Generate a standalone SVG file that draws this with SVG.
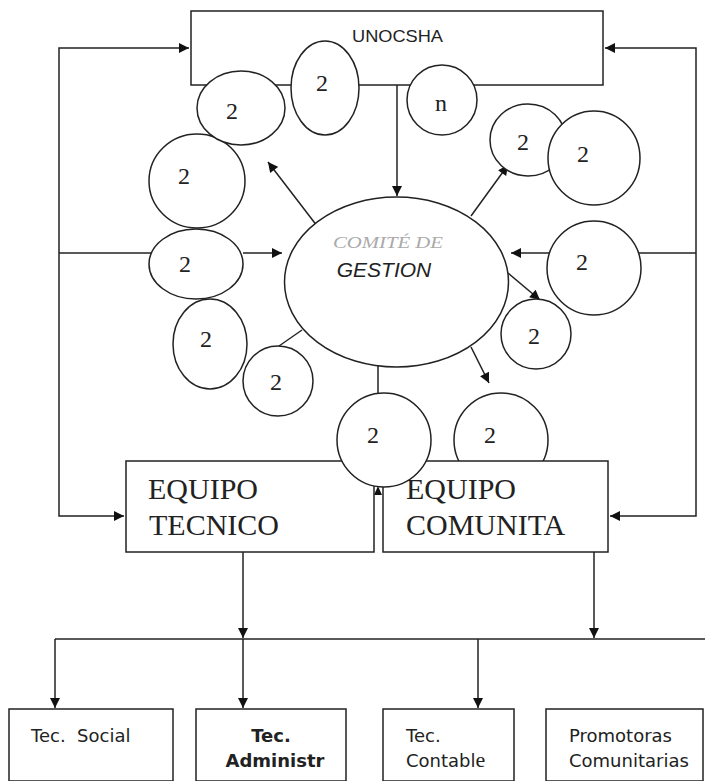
<svg xmlns="http://www.w3.org/2000/svg" width="705" height="781" viewBox="0 0 705 781">
<style>
.ln{fill:none;stroke:#222;stroke-width:1.5}
.bx{fill:#fff;stroke:#222;stroke-width:1.5}
.el{fill:#fff;stroke:#222;stroke-width:1.5}
.num{font-family:"Liberation Serif",serif;font-size:24px;fill:#222;text-anchor:middle;dominant-baseline:central}
.big{font-family:"Liberation Serif",serif;font-size:30px;fill:#222}
.sm{font-family:"DejaVu Sans",sans-serif;font-size:18px;fill:#222}
</style>
<defs>
<marker id="ah" viewBox="0 0 10 10" refX="10" refY="5" markerWidth="11" markerHeight="10" markerUnits="userSpaceOnUse" orient="auto">
<path d="M0,0 L10,5 L0,10 Z" fill="#111"/>
</marker>
</defs>
<rect width="705" height="781" fill="#fff"/>

<g id="connectors">
<polyline class="ln" points="59,253 59,48 189,48" marker-end="url(#ah)"/>
<polyline class="ln" points="59,253 59,516 124,516" marker-end="url(#ah)"/>
<line class="ln" x1="59" y1="253" x2="160" y2="253"/>
<line class="ln" x1="243" y1="253" x2="282" y2="253" marker-end="url(#ah)"/>
<polyline class="ln" points="696,253 696,48 605,48" marker-end="url(#ah)"/>
<polyline class="ln" points="696,253 696,516 610,516" marker-end="url(#ah)"/>
<line class="ln" x1="696" y1="253" x2="511" y2="253" marker-end="url(#ah)"/>
<line class="ln" x1="397" y1="85" x2="397" y2="196" marker-end="url(#ah)"/>
<line class="ln" x1="324" y1="235" x2="268" y2="162" marker-end="url(#ah)"/>
<line class="ln" x1="471" y1="216" x2="508" y2="165" marker-end="url(#ah)"/>
<line class="ln" x1="508" y1="273" x2="540" y2="300" marker-end="url(#ah)"/>
<line class="ln" x1="471" y1="347" x2="489" y2="383" marker-end="url(#ah)"/>
<line class="ln" x1="302" y1="330" x2="279" y2="346"/>
<line class="ln" x1="378" y1="366" x2="378" y2="394"/>
<path d="M374,495 L378,486 L382,495 Z" fill="#111"/>
<line class="ln" x1="243" y1="552" x2="243" y2="638" marker-end="url(#ah)"/>
<line class="ln" x1="594" y1="542" x2="594" y2="638" marker-end="url(#ah)"/>
<line class="ln" x1="55" y1="639" x2="705" y2="639"/>
<line class="ln" x1="55" y1="639" x2="55" y2="708" marker-end="url(#ah)"/>
<line class="ln" x1="243" y1="639" x2="243" y2="708" marker-end="url(#ah)"/>
<line class="ln" x1="478" y1="639" x2="478" y2="708" marker-end="url(#ah)"/>
</g>

<g id="unocsha">
<rect class="bx" x="191" y="11" width="412" height="74"/>
<text x="352" y="42" font-family="'Liberation Sans',sans-serif" font-size="17" fill="#222" textLength="91" lengthAdjust="spacingAndGlyphs">UNOCSHA</text>
</g>

<g id="circle-left1"><ellipse class="el" cx="197" cy="181" rx="48" ry="47"/><text class="num" x="184" y="176">2</text></g>
<g id="circle-top1"><ellipse class="el" cx="241" cy="108" rx="44" ry="37"/><text class="num" x="232" y="111">2</text></g>
<g id="circle-top2"><ellipse class="el" cx="325" cy="88" rx="34" ry="47"/><text class="num" x="322" y="83">2</text></g>
<g id="circle-n"><ellipse class="el" cx="442" cy="100" rx="35" ry="35"/><text class="num" x="441" y="103">n</text></g>
<g id="circle-left2"><ellipse class="el" cx="196" cy="264" rx="47" ry="35"/><text class="num" x="185" y="264">2</text></g>
<g id="circle-left3"><ellipse class="el" cx="210" cy="344" rx="37" ry="45"/><text class="num" x="206" y="339">2</text></g>
<g id="circle-left4"><ellipse class="el" cx="278" cy="381" rx="35" ry="35"/><text class="num" x="276" y="382">2</text></g>
<g id="circle-right1"><ellipse class="el" cx="528" cy="140" rx="38" ry="36"/><text class="num" x="523" y="142">2</text></g>
<g id="circle-right2"><ellipse class="el" cx="594" cy="158" rx="46" ry="47"/><text class="num" x="583" y="154">2</text></g>
<g id="circle-right3"><ellipse class="el" cx="594" cy="268" rx="47" ry="47"/><text class="num" x="582" y="262">2</text></g>
<g id="circle-right4"><ellipse class="el" cx="536" cy="334" rx="35" ry="35"/><text class="num" x="534" y="336">2</text></g>
<g id="circle-bottom2"><ellipse class="el" cx="501" cy="440" rx="47" ry="47"/><text class="num" x="490" y="435">2</text></g>

<g id="comite">
<ellipse class="el" cx="396.5" cy="282" rx="112" ry="85"/>
<text x="333" y="248" font-family="'Liberation Serif',serif" font-style="italic" font-size="17" fill="#aaa" textLength="110" lengthAdjust="spacingAndGlyphs">COMITÉ DE</text>
<text x="384" y="277" font-family="'Liberation Sans',sans-serif" font-style="italic" font-size="21" fill="#222" text-anchor="middle">GESTION</text>
</g>

<g id="equipo-tecnico">
<rect class="bx" x="126" y="461" width="248" height="91"/>
<text class="big" x="148" y="499">EQUIPO</text>
<text class="big" x="149" y="535">TECNICO</text>
</g>
<g id="equipo-comunita">
<rect class="bx" x="383" y="461" width="225" height="91"/>
<text class="big" x="406" y="499">EQUIPO</text>
<text class="big" x="406" y="535">COMUNITA</text>
</g>

<g id="circle-bottom1"><ellipse class="el" cx="384" cy="440" rx="47" ry="47"/><text class="num" x="373" y="435">2</text></g>

<g id="tec-social">
<rect class="bx" x="9" y="709" width="164" height="72"/>
<text class="sm" x="31" y="742" xml:space="preserve">Tec.  Social</text>
</g>
<g id="tec-administr">
<rect class="bx" x="196" y="709" width="150" height="72"/>
<text class="sm" x="271" y="742" font-weight="bold" text-anchor="middle">Tec.</text>
<text class="sm" x="275" y="767" font-weight="bold" text-anchor="middle">Administr</text>
</g>
<g id="tec-contable">
<rect class="bx" x="383" y="709" width="131" height="72"/>
<text class="sm" x="406" y="742">Tec.</text>
<text class="sm" x="406" y="767">Contabl<tspan font-family="'Liberation Serif',serif" font-size="22">e</tspan></text>
</g>
<g id="promotoras">
<rect class="bx" x="546" y="709" width="157" height="72"/>
<text class="sm" x="569" y="742">Promotoras</text>
<text class="sm" x="569" y="767">Comunitarias</text>
</g>
</svg>
